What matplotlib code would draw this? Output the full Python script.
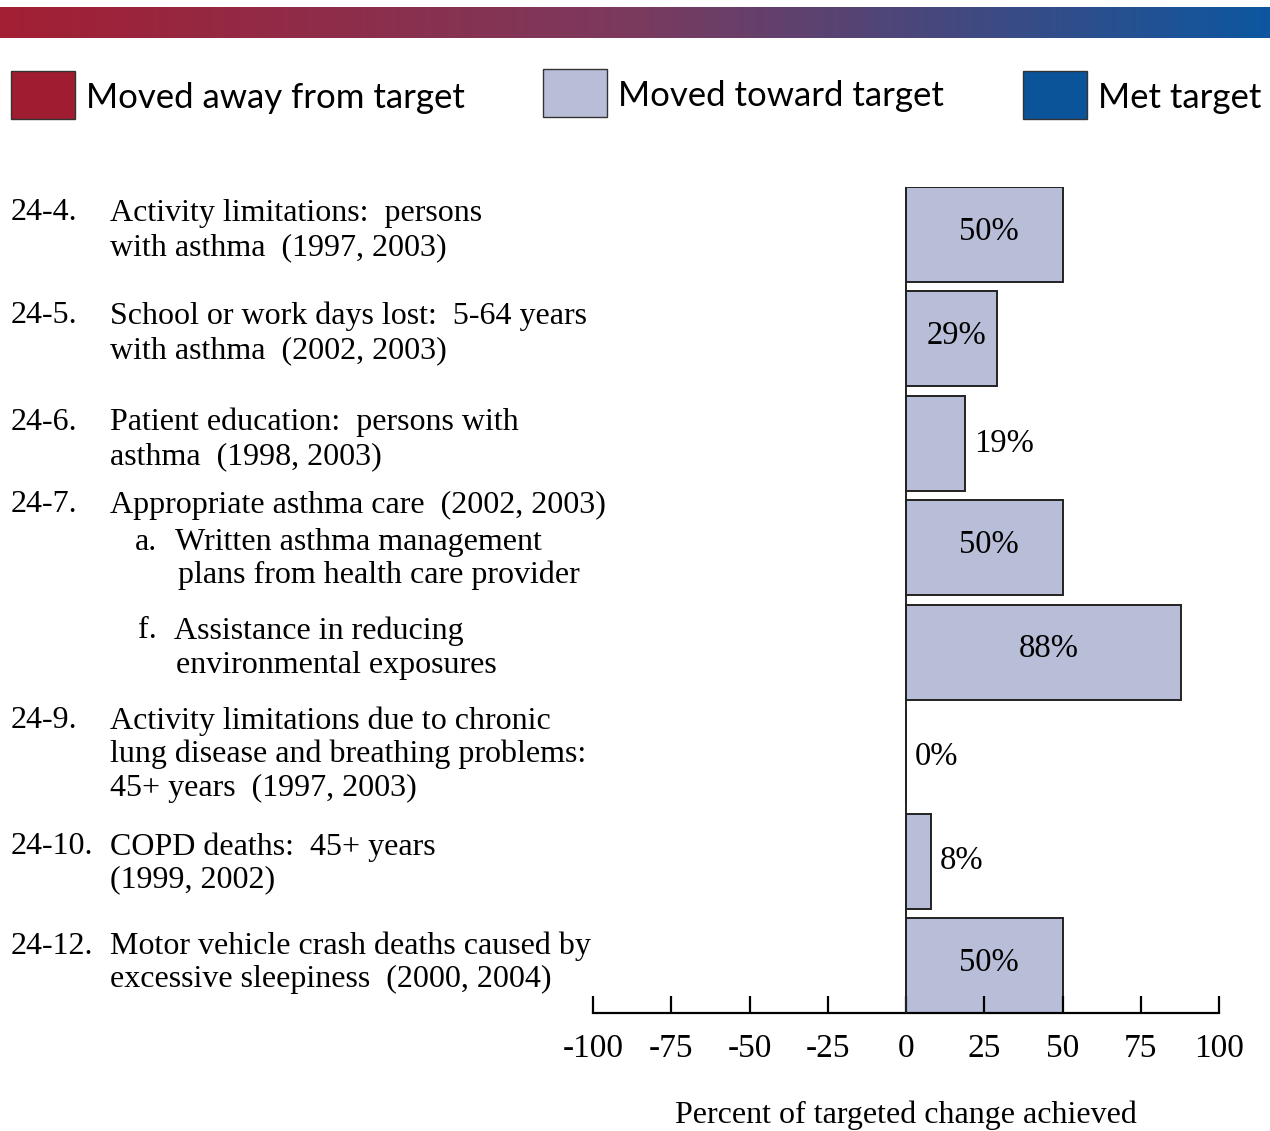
import numpy as np
import matplotlib.pyplot as plt
from matplotlib.colors import LinearSegmentedColormap
from matplotlib.patches import Rectangle

# data
objectives = ["24-4.", "24-5.", "24-6.", "24-7.a", "24-7.f", "24-9.", "24-10.", "24-12."]
pct_achieved = [50, 29, 19, 50, 88, 0, 8, 50]
legend_labels = ["Moved away from target", "Moved toward target", "Met target"]
legend_colors = ["#A01C30", "#B8BED8", "#0B5499"]
x_ticks = [-100, -75, -50, -25, 0, 25, 50, 75, 100]

# left-hand text: (x pixel, y pixel, text)
label_lines = [
    (11, 213, "24-4."), (110, 213, "Activity limitations:  persons"),
    (110, 248, "with asthma  (1997, 2003)"),
    (11, 316, "24-5."), (110, 316, "School or work days lost:  5-64 years"),
    (110, 351, "with asthma  (2002, 2003)"),
    (11, 422, "24-6."), (110, 422, "Patient education:  persons with"),
    (110, 457, "asthma  (1998, 2003)"),
    (11, 505, "24-7."), (110, 505, "Appropriate asthma care  (2002, 2003)"),
    (135, 543, "a."), (175, 543, "Written asthma management"),
    (178, 575, "plans from health care provider"),
    (138, 631, "f."), (174, 631, "Assistance in reducing"),
    (176, 666, "environmental exposures"),
    (11, 721, "24-9."), (110, 721, "Activity limitations due to chronic"),
    (110, 754, "lung disease and breathing problems:"),
    (110, 788, "45+ years  (1997, 2003)"),
    (11, 847, "24-10."), (110, 847, "COPD deaths:  45+ years"),
    (110, 880, "(1999, 2002)"),
    (11, 946, "24-12."), (110, 946, "Motor vehicle crash deaths caused by"),
    (110, 979, "excessive sleepiness  (2000, 2004)"),
]

W, H = 1270, 1131
serif = "Liberation Serif"
fig = plt.figure(figsize=(W / 100, H / 100), dpi=100)

# gradient band on top
gax = fig.add_axes([0, 1 - 38 / H, 1, 31 / H])
cmap = LinearSegmentedColormap.from_list("band", ["#A31F34", "#7B3A5E", "#0D57A0"])
gax.imshow(np.linspace(0, 1, 512)[None, :], aspect="auto", cmap=cmap)
gax.axis("off")

# legend boxes
for (bx, by), lab, col in zip([(11, 71), (543, 69), (1023, 71)], legend_labels, legend_colors):
    fig.patches.append(Rectangle((bx / W, 1 - (by + 48) / H), 64 / W, 48 / H,
                                 transform=fig.transFigure, facecolor=col,
                                 edgecolor="#333333", linewidth=1.0))
    fig.text((bx + 75) / W, 1 - (by + 27) / H, lab, fontsize=25, family="Lato",
             va="center", ha="left")

# bar axes
ax = fig.add_axes([593 / W, 1 - 1013 / H, 626 / W, 826 / H])
y = np.arange(len(pct_achieved))
ax.barh(y, pct_achieved, height=0.91, color="#B8BED8", edgecolor="#222222", linewidth=1.4)
ax.set_xlim(-100, 100)
ax.set_ylim(len(pct_achieved) - 1 + 0.455, -0.455)
ax.axvline(0, color="#222222", linewidth=1.4, zorder=3)

for yi, v in zip(y, pct_achieved):
    if v > 25:
        ax.text(v / 2 + 1.5, yi - 0.03, f"{v}%", ha="center", va="center", fontsize=23.5, family=serif)
    else:
        ax.text(v + 2.8, yi, f"{v}%", ha="left", va="center", fontsize=23.5, family=serif)

for s in ["top", "right", "left"]:
    ax.spines[s].set_visible(False)
ax.spines["bottom"].set_linewidth(1.6)
ax.set_yticks([])
ax.set_xticks(x_ticks)
ax.set_xticklabels([str(t) for t in x_ticks], fontsize=24, family=serif)
ax.tick_params(axis="x", direction="in", length=12, width=1.6, pad=15)
ax.set_xlabel("Percent of targeted change achieved", fontsize=23, family=serif, labelpad=26)

for px, py, t in label_lines:
    fig.text(px / W, 1 - py / H, t, fontsize=23, family=serif, ha="left", va="center")

fig.savefig("out.png", dpi=100)
